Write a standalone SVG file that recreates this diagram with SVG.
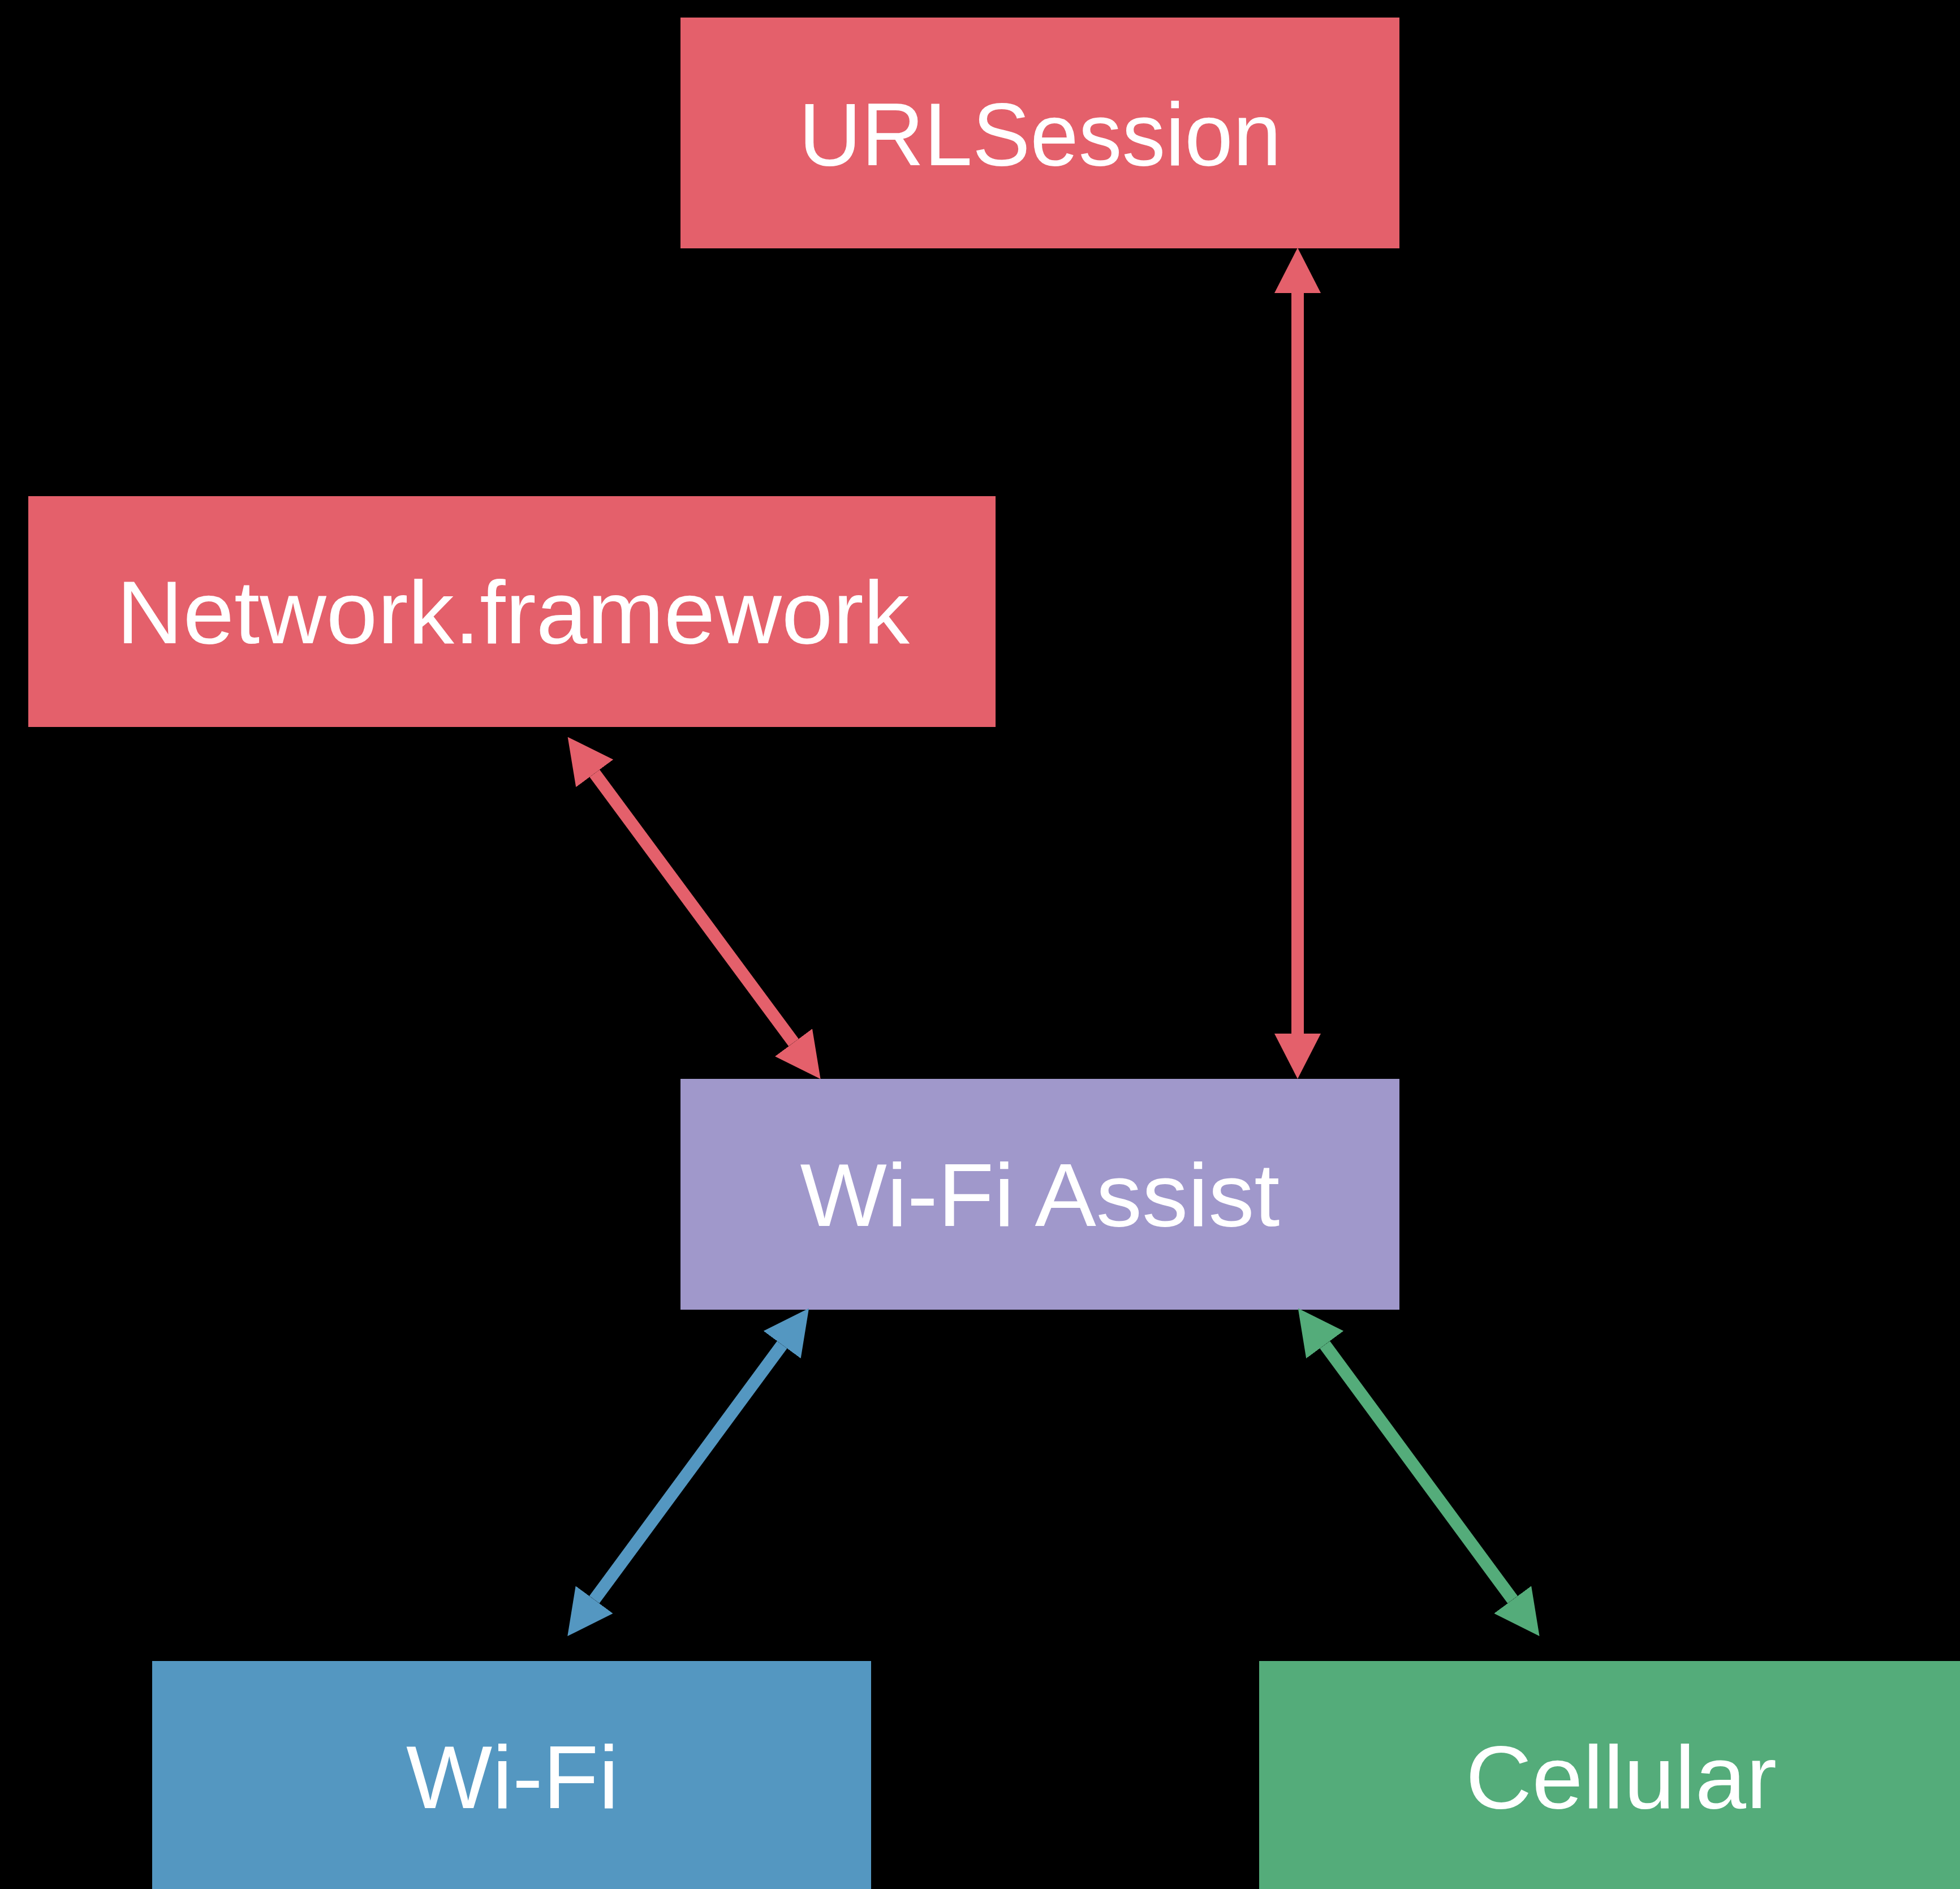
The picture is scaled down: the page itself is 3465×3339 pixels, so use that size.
<svg xmlns="http://www.w3.org/2000/svg" width="3465" height="3339" viewBox="0 0 3465 3339">
  <style>
    .lbl { font-family: "Liberation Sans", Arial, sans-serif; font-size: 158px; fill: #ffffff; text-anchor: middle; }
    .conn { stroke-width: 22; fill: none; stroke-linecap: butt; }
  </style>
  <defs>
    <marker id="ah-red" viewBox="0 0 80 82" refX="0" refY="41" markerWidth="80" markerHeight="82" markerUnits="userSpaceOnUse" orient="auto-start-reverse">
      <path d="M0,0 L80,41 L0,82 z" fill="#E4606B"/>
    </marker>
    <marker id="ah-blue" viewBox="0 0 80 82" refX="0" refY="41" markerWidth="80" markerHeight="82" markerUnits="userSpaceOnUse" orient="auto-start-reverse">
      <path d="M0,0 L80,41 L0,82 z" fill="#5497C1"/>
    </marker>
    <marker id="ah-green" viewBox="0 0 80 82" refX="0" refY="41" markerWidth="80" markerHeight="82" markerUnits="userSpaceOnUse" orient="auto-start-reverse">
      <path d="M0,0 L80,41 L0,82 z" fill="#54AC7A"/>
    </marker>
  </defs>
  <rect x="0" y="0" width="3465" height="3339" fill="#000000"/>

  <g id="node-urlsession">
    <rect x="1203" y="31" width="1271" height="408" fill="#E4606B"/>
    <text class="lbl" x="1838.5" y="292" textLength="853" lengthAdjust="spacingAndGlyphs">URLSession</text>
  </g>
  <g id="node-network-framework">
    <rect x="50" y="877" width="1710" height="408" fill="#E4606B"/>
    <text class="lbl" x="907" y="1137" textLength="1402" lengthAdjust="spacingAndGlyphs">Network.framework</text>
  </g>
  <g id="node-wifi-assist">
    <rect x="1203" y="1907" width="1271" height="408" fill="#A098CB"/>
    <text class="lbl" x="1838.5" y="2167" textLength="848" lengthAdjust="spacingAndGlyphs">Wi-Fi Assist</text>
  </g>
  <g id="node-wifi">
    <rect x="269" y="2936" width="1271" height="408" fill="#5497C1"/>
    <text class="lbl" x="906" y="3196" textLength="376" lengthAdjust="spacingAndGlyphs">Wi-Fi</text>
  </g>
  <g id="node-cellular">
    <rect x="2226" y="2936" width="1271" height="408" fill="#54AC7A"/>
    <text class="lbl" x="2866" y="3196" textLength="550" lengthAdjust="spacingAndGlyphs">Cellular</text>
  </g>

  <g id="connectors">
    <line class="conn" x1="2294" y1="518" x2="2294" y2="1827" stroke="#E4606B" marker-start="url(#ah-red)" marker-end="url(#ah-red)"/>
    <line class="conn" x1="1051.2" y1="1367" x2="1403" y2="1842.8" stroke="#E4606B" marker-start="url(#ah-red)" marker-end="url(#ah-red)"/>
    <line class="conn" x1="1382.6" y1="2376.9" x2="1050.7" y2="2827.6" stroke="#5497C1" marker-start="url(#ah-blue)" marker-end="url(#ah-blue)"/>
    <line class="conn" x1="2342.2" y1="2376.9" x2="2674.1" y2="2827.6" stroke="#54AC7A" marker-start="url(#ah-green)" marker-end="url(#ah-green)"/>
  </g>
</svg>
